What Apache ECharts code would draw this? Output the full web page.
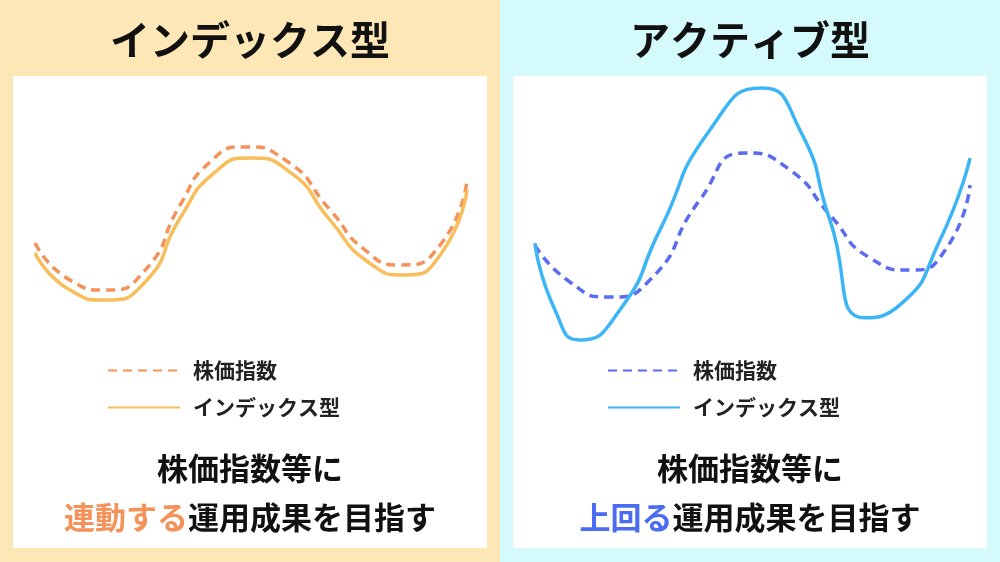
<!DOCTYPE html>
<html><head><meta charset="utf-8">
<script src="https://cdn.jsdelivr.net/npm/echarts@6/dist/echarts.min.js"></script>
<style>html,body{margin:0;padding:0}#c{width:1000px;height:562px}</style></head>
<body><div id="c"></div>
<script>
const indexDashed = [[0,39.6],[8.1,25.9],[16.2,22.2],[25.5,29.6],[33.6,53.7],[40.5,69.6],[48.6,75.2],[57.9,70.4],[68.3,51.9],[76.4,37],[84.5,31.5],[93.8,38.9],[100,63]];
const indexSolid = [[0,35.9],[8.1,22.2],[16.2,18.5],[25.5,25.2],[33.6,48.9],[41.7,65.9],[49.8,71.1],[59,65.9],[68.3,48.1],[77.1,32.6],[85.6,27.8],[93.8,35.2],[100,59.3]];
const activeDashed = [[0,38.9],[8,25.2],[17.2,19.6],[26.4,25.9],[37.9,55.6],[48.3,73],[58.6,66.7],[67.8,50],[77,34.1],[86.2,29.6],[94.3,37],[100,61.1]];
const activeSolid = [[0,39.6],[4.6,14.8],[10.3,3.7],[19.5,14.8],[28.7,44.4],[40.2,81.5],[52.2,97],[60.9,81.5],[67.8,48.1],[75.9,11.9],[83.9,16.7],[93.1,40.7],[100,71.1]];
const legendNames = ['株価指数','インデックス型'];
const titles = ['インデックス型','アクティブ型'];
const F = '"Noto Sans CJK JP", sans-serif';
const ch = echarts.init(document.getElementById('c'));
const ax = (i)=>({type:'value',min:0,max:100,show:false,gridIndex:i});
const mk=(name,data,g,color,dashed)=>({type:'line',name,data,xAxisIndex:g,yAxisIndex:g,smooth:0.6,symbol:'none',
  itemStyle:{color},lineStyle:{color,width:3.5,type:dashed?[9,6]:'solid'}});
const leg=(left,names)=>({orient:'vertical',left,top:355,itemWidth:72,itemHeight:14,itemGap:16,data:names,
  itemStyle:{opacity:0},
  formatter:n=>n.replace(/\u200b/g,''),textStyle:{fontFamily:F,fontSize:21,fontWeight:'bold',color:'#222',padding:[0,0,0,8]}});
ch.setOption({
  animation:false,
  backgroundColor:'#fff',
  grid:[{left:35,width:432,top:80,height:270},{left:535,width:435,top:80,height:270}],
  xAxis:[ax(0),ax(1)], yAxis:[ax(0),ax(1)],
  legend:[leg(102,legendNames),leg(602,legendNames.map(n=>n+'\u200b'))],
  series:[
    mk(legendNames[0],indexDashed,0,'#F4925A',true),
    mk(legendNames[1],indexSolid,0,'#F9BE5C',false),
    mk(legendNames[0]+'\u200b',activeDashed,1,'#5B6CF0',true),
    mk(legendNames[1]+'\u200b',activeSolid,1,'#3BB5F5',false)
  ],
  graphic:[
    {type:'rect',z:-10,shape:{x:0,y:0,width:500,height:562},style:{fill:'#FDE7B7'}},
    {type:'rect',z:-10,shape:{x:500,y:0,width:500,height:562},style:{fill:'#D4FAFC'}},
    {type:'rect',z:-9,shape:{x:13,y:76,width:474,height:472},style:{fill:'#fff'}},
    {type:'rect',z:-9,shape:{x:513,y:76,width:474,height:472},style:{fill:'#fff'}},
    {type:'text',x:250,y:40,style:{text:titles[0],font:'bold 40px '+F,fill:'#111',align:'center',verticalAlign:'middle'}},
    {type:'text',x:750,y:40,style:{text:titles[1],font:'bold 40px '+F,fill:'#111',align:'center',verticalAlign:'middle'}},
    {type:'text',x:250,y:468,style:{text:'株価指数等に',font:'bold 31px '+F,fill:'#111',align:'center',verticalAlign:'middle'}},
    {type:'text',x:750,y:468,style:{text:'株価指数等に',font:'bold 31px '+F,fill:'#111',align:'center',verticalAlign:'middle'}},
    {type:'text',x:250,y:517,style:{text:'{a|連動する}{b|運用成果を目指す}',align:'center',verticalAlign:'middle',
      rich:{a:{font:'bold 31px '+F,fill:'#F4925A'},b:{font:'bold 31px '+F,fill:'#111'}}}},
    {type:'text',x:750,y:517,style:{text:'{a|上回る}{b|運用成果を目指す}',align:'center',verticalAlign:'middle',
      rich:{a:{font:'bold 31px '+F,fill:'#4A6CF0'},b:{font:'bold 31px '+F,fill:'#111'}}}}
  ]
});
</script></body></html>
